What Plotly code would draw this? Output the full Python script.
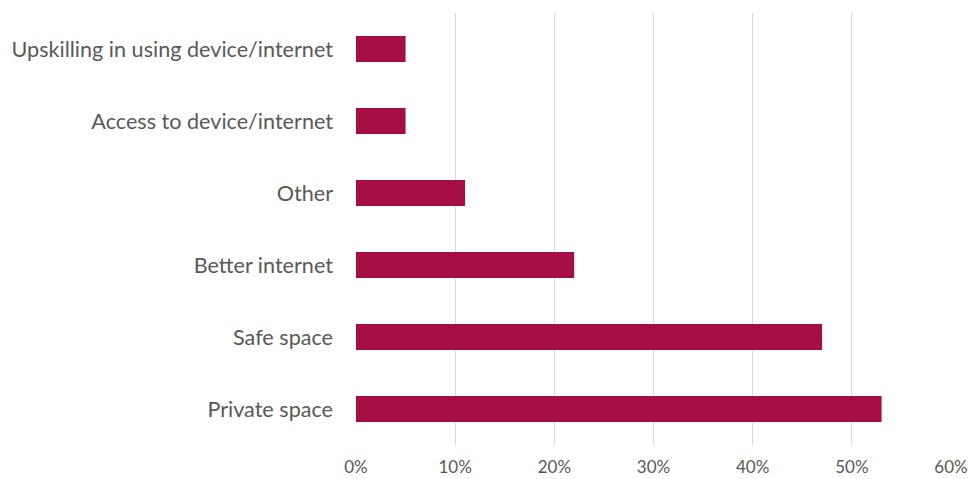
import plotly.graph_objects as go

# Survey responses: what would help most (share of respondents)
categories = [
    "Private space",
    "Safe space",
    "Better internet",
    "Other",
    "Access to device/internet",
    "Upskilling in using device/internet",
]
shares = [53, 47, 22, 11, 5, 5]
tick_values = [0, 10, 20, 30, 40, 50, 60]
tick_labels = ["0%", "10%", "20%", "30%", "40%", "50%", "60%"]

BAR_COLOR = "#A50F45"
TEXT_COLOR = "#595959"
GRID_COLOR = "#D9D9D9"

fig = go.Figure(
    go.Bar(
        x=shares,
        y=categories,
        orientation="h",
        marker=dict(color=BAR_COLOR, line=dict(width=0)),
        hoverinfo="x+y",
    )
)

fig.update_layout(
    width=968,
    height=479,
    margin=dict(l=356, r=17, t=13, b=34),
    paper_bgcolor="white",
    plot_bgcolor="white",
    bargap=0.64,
    showlegend=False,
    font=dict(family="Lato, Open Sans, sans-serif", color=TEXT_COLOR),
)

fig.update_xaxes(
    range=[0, 60],
    tickvals=tick_values,
    ticktext=tick_labels,
    showgrid=True,
    gridcolor=GRID_COLOR,
    gridwidth=1,
    zeroline=False,
    showline=False,
    ticks="",
    tickfont=dict(size=17, color=TEXT_COLOR),
    ticklabelstandoff=10,
    automargin=False,
)

fig.update_yaxes(
    categoryorder="array",
    categoryarray=categories,
    showgrid=False,
    zeroline=False,
    showline=False,
    ticks="",
    tickfont=dict(size=21.6, color=TEXT_COLOR),
    ticklabelstandoff=22,
    automargin=False,
)

fig.write_html("out.html")
